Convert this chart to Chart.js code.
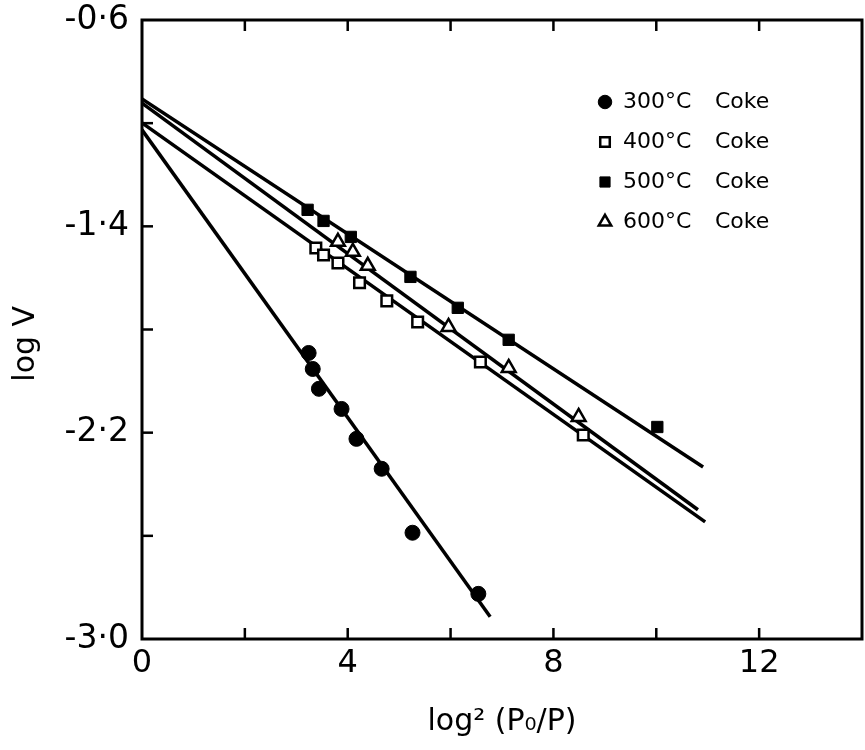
<!DOCTYPE html>
<html><head><meta charset="utf-8">
<script src="https://cdn.jsdelivr.net/npm/chart.js@4/dist/chart.umd.min.js"></script>
<style>html,body{margin:0;padding:0;background:#fff;overflow:hidden}#wrap{width:865px;height:750px}canvas{display:block}</style>
</head><body><div id="wrap"><canvas id="c" width="865" height="750"></canvas></div>
<script>
// ---- data ----
const seriesLabels = ['300°C', '400°C', '500°C', '600°C'];
const legendSuffix = 'Coke';

const x300 = [3.24, 3.32, 3.44, 3.88, 4.17, 4.66, 5.26, 6.54];
const y300 = [-1.891, -1.953, -2.030, -2.108, -2.224, -2.340, -2.588, -2.825];

const x400 = [3.38, 3.53, 3.81, 4.23, 4.76, 5.36, 6.58, 8.58];
const y400 = [-1.484, -1.511, -1.542, -1.619, -1.689, -1.771, -1.926, -2.209];

const x500 = [3.22, 3.53, 4.06, 5.22, 6.14, 7.13, 10.02];
const y500 = [-1.336, -1.379, -1.441, -1.596, -1.716, -1.840, -2.178];

const x600 = [3.81, 4.10, 4.39, 5.96, 7.13, 8.49];
const y600 = [-1.460, -1.499, -1.553, -1.790, -1.949, -2.139];

// fitted straight lines (end points)
const fitX300 = [0, 6.77];  const fitY300 = [-1.026, -2.914];
const fitX400 = [0, 10.95]; const fitY400 = [-0.999, -2.546];
const fitX500 = [0, 10.91]; const fitY500 = [-0.906, -2.333];
const fitX600 = [0, 10.81]; const fitY600 = [-0.922, -2.499];

// tick labels
const xTickValues = [0, 4, 8, 12];
const xTickLabels = ['0', '4', '8', '12'];
const yTickValues = [-0.6, -1.4, -2.2, -3.0];
const yTickLabels = ['-0·6', '-1·4', '-2·2', '-3·0'];

// ---- build ----
const pts = (xs, ys) => xs.map((x, i) => ({x, y: ys[i]}));
const FONT = "'DejaVu Sans', 'Liberation Sans', sans-serif";

const markerStyles = [
  {pointStyle: 'circle', radius: 7.5, fill: '#000', borderWidth: 1},
  {pointStyle: 'rect', radius: 7.5, fill: '#fff', borderWidth: 2.5},
  {pointStyle: 'rect', radius: 8, fill: '#000', borderWidth: 1},
  {pointStyle: 'triangle', radius: 8, fill: '#fff', borderWidth: 2.5}
];
const scatterData = [pts(x300, y300), pts(x400, y400), pts(x500, y500), pts(x600, y600)];
const fitData = [pts(fitX300, fitY300), pts(fitX400, fitY400), pts(fitX500, fitY500), pts(fitX600, fitY600)];

const datasets = [];
fitData.forEach((d, i) => datasets.push({
  type: 'line', label: 'fit ' + seriesLabels[i], data: d, borderColor: '#000', borderWidth: 3.5,
  pointRadius: 0, fill: false, tension: 0, order: 2
}));
scatterData.forEach((d, i) => {
  const m = markerStyles[i];
  datasets.push({
    type: 'scatter', label: seriesLabels[i] + '  ' + legendSuffix, data: d,
    pointStyle: m.pointStyle, pointRadius: m.radius, pointBackgroundColor: m.fill,
    pointBorderColor: '#000', pointBorderWidth: m.borderWidth, order: 1
  });
});

const near = (a, b) => Math.abs(a - b) < 1e-6;
const zeroPad = s => { s.paddingTop = 0; s.paddingBottom = 0; s.paddingLeft = 0; s.paddingRight = 0; };

const framePlugin = {
  id: 'frame',
  afterDraw(chart) {
    const {ctx, chartArea: a, scales} = chart;
    ctx.save();
    ctx.strokeStyle = '#000';
    ctx.lineWidth = 3;
    ctx.strokeRect(a.left, a.top, a.right - a.left, a.bottom - a.top);
    ctx.lineWidth = 2.5;
    const L = 11;
    scales.x.ticks.forEach(t => {
      const px = scales.x.getPixelForValue(t.value);
      if (px <= a.left + 1 || px >= a.right - 1) return;
      ctx.beginPath();
      ctx.moveTo(px, a.bottom); ctx.lineTo(px, a.bottom - L);
      ctx.moveTo(px, a.top); ctx.lineTo(px, a.top + L);
      ctx.stroke();
    });
    scales.y.ticks.forEach(t => {
      const py = scales.y.getPixelForValue(t.value);
      if (py <= a.top + 1 || py >= a.bottom - 1) return;
      ctx.beginPath();
      ctx.moveTo(a.left, py); ctx.lineTo(a.left + L, py);
      ctx.stroke();
    });
    // legend
    const lx = 605, ly0 = 102, dy = 40;
    ctx.font = '22px ' + FONT;
    ctx.textBaseline = 'middle';
    markerStyles.forEach((m, i) => {
      const y = ly0 + i * dy;
      ctx.fillStyle = m.fill; ctx.strokeStyle = '#000'; ctx.lineWidth = m.borderWidth;
      Chart.helpers.drawPoint(ctx, {pointStyle: m.pointStyle, radius: m.radius * 0.9, rotation: 0, borderWidth: m.borderWidth}, lx, y);
      ctx.fillStyle = '#000';
      ctx.fillText(seriesLabels[i], 623, y);
      ctx.fillText(legendSuffix, 715, y);
    });
    ctx.restore();
  }
};

new Chart(document.getElementById('c'), {
  data: {datasets},
  options: {
    responsive: false, animation: false, devicePixelRatio: 1,
    layout: {autoPadding: false, padding: {top: 20, right: 3, left: 0, bottom: 0}},
    plugins: {legend: {display: false}, tooltip: {enabled: false}},
    scales: {
      x: {
        type: 'linear', min: 0, max: 14,
        grid: {display: false, drawTicks: false}, border: {display: false},
        ticks: {
          stepSize: 2, padding: 5, color: '#000', font: {family: FONT, size: 32},
          maxRotation: 0, autoSkip: false,
          callback: v => { const k = xTickValues.findIndex(t => near(t, v)); return k >= 0 ? xTickLabels[k] : ''; }
        },
        title: {display: true, text: 'log² (P₀/P)', color: '#000', font: {family: FONT, size: 30}, padding: {top: 0, bottom: 10}},
        afterFit: s => { s.height = 111; zeroPad(s); }
      },
      y: {
        type: 'linear', min: -3.0, max: -0.6,
        grid: {display: false, drawTicks: false}, border: {display: false},
        ticks: {
          stepSize: 0.4, padding: 13, color: '#000', font: {family: FONT, size: 33}, autoSkip: false,
          callback: v => { const k = yTickValues.findIndex(t => near(t, v)); return k >= 0 ? yTickLabels[k] : ''; }
        },
        title: {display: true, text: 'log V   ', color: '#000', font: {family: FONT, size: 30}, padding: {top: 8, bottom: 0}},
        afterFit: s => { s.width = 142; zeroPad(s); }
      }
    }
  },
  plugins: [framePlugin]
});
</script></body></html>
